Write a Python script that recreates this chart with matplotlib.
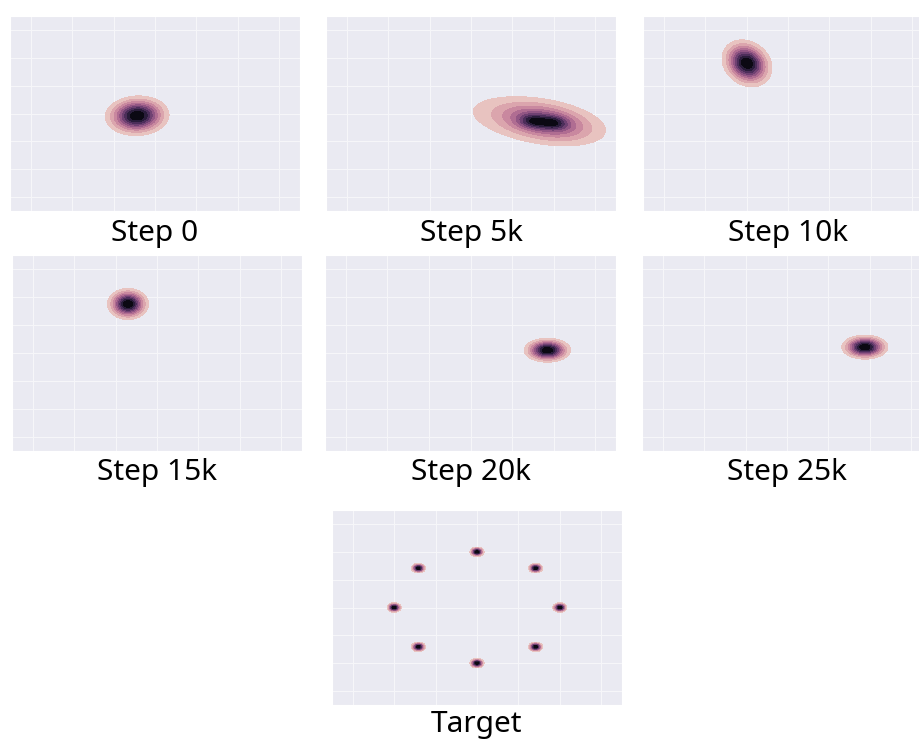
"""Mode-collapse snapshots: KDE of generator samples at several training steps."""
import numpy as np
import matplotlib

matplotlib.use("Agg")

import matplotlib.pyplot as plt
import seaborn as sns

# panel titles
titles = ["Step 0", "Step 5k", "Step 10k", "Step 15k", "Step 20k", "Step 25k", "Target"]

# gaussian blobs (panel index, centre, spreads, tilt in degrees, weight)
comp_panel = [0, 1, 1, 1, 1, 2, 3, 4, 5]
comp_x = [-0.43, 1.50, 2.00, 1.80, 1.55, -0.99, -0.70, 1.85, 1.88]
comp_y = [-0.08, -0.28, -0.33, -0.30, -0.25, 1.80, 1.75, 0.10, 0.21]
comp_sx = [0.36, 0.22, 0.22, 0.65, 1.10, 0.27, 0.23, 0.26, 0.26]
comp_sy = [0.33, 0.15, 0.15, 0.35, 0.50, 0.40, 0.26, 0.20, 0.20]
comp_angle = [15, -10, -10, -17, -15, 15, 0, 0, 0]
comp_w = [1.0, 0.04, 0.04, 0.40, 0.52, 1.0, 1.0, 1.0, 1.0]

# target: eight modes on a circle of radius 2
target_x = [2.0, 1.414, 0.0, -1.414, -2.0, -1.414, 0.0, 1.414]
target_y = [0.0, 1.414, 2.0, 1.414, 0.0, -1.414, -2.0, -1.414]
target_sd = 0.08

LIM = 3.5
W, H = 919, 740

sns.set_style("darkgrid")
plt.rcParams["font.family"] = ["Noto Sans", "DejaVu Sans"]
cmap = sns.cubehelix_palette(light=0.95, dark=0.0, as_cmap=True)

gx = np.linspace(-LIM, LIM, 500)
gy = np.linspace(-LIM, LIM, 500)
XX, YY = np.meshgrid(gx, gy)


def gauss(cx, cy, sx, sy, ang, w):
    a = np.deg2rad(ang)
    dx, dy = XX - cx, YY - cy
    u = dx * np.cos(a) + dy * np.sin(a)
    v = -dx * np.sin(a) + dy * np.cos(a)
    return w / (2 * np.pi * sx * sy) * np.exp(-0.5 * ((u / sx) ** 2 + (v / sy) ** 2))


densities = []
for p in range(6):
    z = np.zeros_like(XX)
    for i, pi in enumerate(comp_panel):
        if pi == p:
            z += gauss(comp_x[i], comp_y[i], comp_sx[i], comp_sy[i], comp_angle[i], comp_w[i])
    densities.append(z)
zt = np.zeros_like(XX)
for tx, ty in zip(target_x, target_y):
    zt += gauss(tx, ty, target_sd, target_sd, 0, 1.0)
densities.append(zt)

# axes boxes in pixels: left, top, width, height
boxes = [
    (10, 16, 290, 195), (326, 16, 290, 195), (643, 16, 290, 195),
    (12, 255, 290, 196), (325, 255, 291, 196), (642, 255, 290, 196),
    (332, 510, 290, 195),
]
title_gap = [30, 30, 30, 29, 29, 29, 27]

fig = plt.figure(figsize=(W / 100, H / 100), dpi=100)
for k, (l, t, w, h) in enumerate(boxes):
    ax = fig.add_axes([l / W, (H - t - h) / H, w / W, h / H])
    z = densities[k]
    zmax = z.max()
    levels = np.linspace(0, zmax, 11)
    # lowest band left unshaded, like the old kdeplot(shade_lowest=False)
    ax.contourf(XX, YY, z, levels=levels[1:], cmap=cmap, vmin=0, vmax=zmax)
    ax.set_xlim(-LIM, LIM)
    ax.set_ylim(-LIM, LIM)
    ax.set_xticks(range(-3, 4))
    ax.set_yticks(range(-3, 4))
    ax.set_xticklabels([])
    ax.set_yticklabels([])
    ax.tick_params(length=0)
    ax.grid(True, color="#f7f7fa", linewidth=0.7)
    ax.set_axisbelow(True)
    ax.text(0.5, -title_gap[k] / h, titles[k], transform=ax.transAxes, ha="center",
            va="baseline", fontsize=21.5, color="black")

fig.savefig("out.png", dpi=100)
